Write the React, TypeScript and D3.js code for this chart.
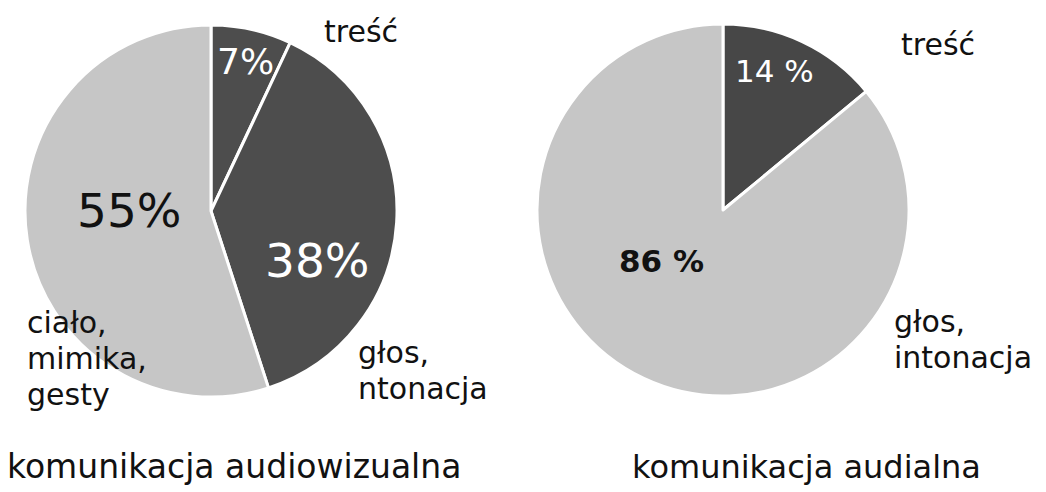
import * as d3 from "d3";

// data
const audiovisualCategories = ["treść", "głos, intonacja", "ciało, mimika, gesty"];
const audiovisualValues = [7, 38, 55];
const audioCategories = ["treść", "głos, intonacja"];
const audioValues = [14, 86];
const chartTitles = ["komunikacja audiowizualna", "komunikacja audialna"];

const W = 1046;
const H = 492;
const R = 186;
const FONT = "'DejaVu Sans', Verdana, sans-serif";

type Lbl = { x: number; y: number; size: number; fill: string; weight?: string; lines: string[] };

function Pie(props: {
  cx: number;
  cy: number;
  values: number[];
  fills: string[];
  pctLabels: Lbl[];
  catLabels: Lbl[];
}) {
  const { cx, cy, values, fills, pctLabels, catLabels } = props;
  const pie = d3.pie<number>().sort(null).value((d) => d);
  const arc = d3.arc<d3.PieArcDatum<number>>().innerRadius(0).outerRadius(R);
  const arcs = pie(values);

  const renderLbl = (l: Lbl, i: number) => (
    <text
      key={i}
      x={cx + l.x}
      y={cy + l.y}
      fontSize={l.size}
      fill={l.fill}
      fontWeight={l.weight || "normal"}
      fontFamily={FONT}
    >
      {l.lines.map((s, j) => (
        <tspan key={j} x={cx + l.x} dy={j === 0 ? 0 : l.size * 1.2}>
          {s}
        </tspan>
      ))}
    </text>
  );

  return (
    <g>
      <g transform={`translate(${cx},${cy})`}>
        {arcs.map((a, i) => (
          <path key={i} d={arc(a) || ""} fill={fills[i]} stroke="#fff" strokeWidth={3} strokeLinejoin="round" />
        ))}
      </g>
      {pctLabels.map(renderLbl)}
      {catLabels.map(renderLbl)}
    </g>
  );
}

export default function App() {
  const pct = (v: number) => v + "%";
  const pctSp = (v: number) => v + " %";

  return (
    <svg
      width={W}
      height={H}
      viewBox={`0 0 ${W} ${H}`}
      style={{ position: "absolute", left: 0, top: 0, background: "#fff" }}
    >
      <Pie
        cx={211}
        cy={211}
        values={audiovisualValues}
        fills={["#4d4d4d", "#4d4d4d", "#c6c6c6"]}
        pctLabels={[
          { x: 6, y: -137, size: 36, fill: "#fff", lines: [pct(audiovisualValues[0])] },
          { x: 54, y: 66, size: 47, fill: "#fff", lines: [pct(audiovisualValues[1])] },
          { x: -134, y: 16, size: 47, fill: "#111", lines: [pct(audiovisualValues[2])] },
        ]}
        catLabels={[
          { x: 113, y: -169, size: 30, fill: "#111", lines: [audiovisualCategories[0]] },
          { x: 147, y: 152, size: 30, fill: "#111", lines: ["głos,", "ntonacja"] },
          { x: -184, y: 122, size: 30, fill: "#111", lines: audiovisualCategories[2].split(" ") },
        ]}
      />
      <Pie
        cx={723}
        cy={210}
        values={audioValues}
        fills={["#474747", "#c6c6c6"]}
        pctLabels={[
          { x: 12, y: -128, size: 31, fill: "#fff", lines: [pctSp(audioValues[0])] },
          { x: -104, y: 62, size: 31, fill: "#111", weight: "bold", lines: [pctSp(audioValues[1])] },
        ]}
        catLabels={[
          { x: 178, y: -155, size: 30, fill: "#111", lines: [audioCategories[0]] },
          { x: 171, y: 122, size: 30, fill: "#111", lines: audioCategories[1].split(" ") },
        ]}
      />
      <text x={7} y={478} fontSize={33} fill="#111" fontFamily={FONT}>
        {chartTitles[0]}
      </text>
      <text x={632} y={478} fontSize={32} fill="#111" fontFamily={FONT}>
        {chartTitles[1]}
      </text>
    </svg>
  );
}
